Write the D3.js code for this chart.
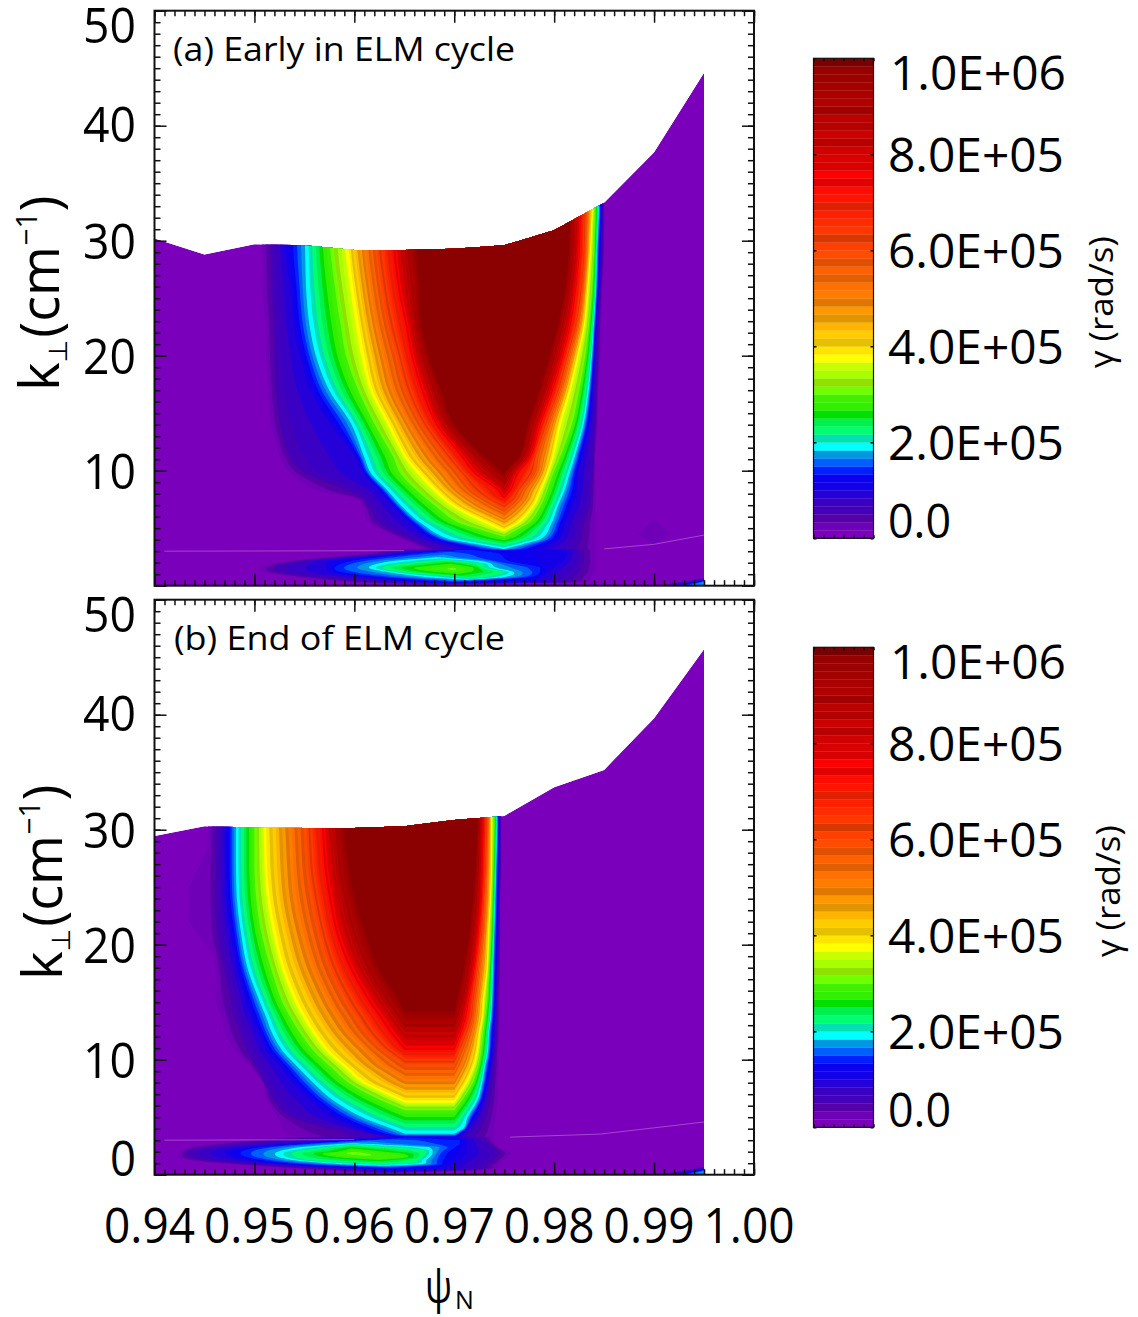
<!DOCTYPE html>
<html>
  <head>
    <meta http-equiv="Content-Type" content="text/html;charset=utf-8"/>
    <script src="https://d3js.org/d3.v7.min.js"></script>
    <style type="text/css">
      html, body { margin: 0; padding: 0; background: #fff; }
      svg { display: block; }
      text { font-family: "Open Sans", "Noto Sans", sans-serif; fill: #000; }
    </style>
  </head>
  <body>
    <div id="chart"></div>
    <script type="text/javascript">
    // psi is kept in thousandths (950 = 0.950), gamma in units of 1e6 rad/s
    // each lobe is a list of contour levels: [gamma, [[k, psiLeft, psiRight], ...]]
    var xMajor = [940, 950, 960, 970, 980, 990, 1000];
    var yMajor = [0, 10, 20, 30, 40, 50];
    var barLabels = ["0.0", "2.0E+05", "4.0E+05", "6.0E+05", "8.0E+05", "1.0E+06"];
    var barValues = [0, 0.2, 0.4, 0.6, 0.8, 1];

    var bandColors = [
      "#7a00bc", "#7000b8", "#5500a8", "#4400b8", "#3a00c4", "#2600d8", "#1400e8", "#0c00f0",
      "#0020ff", "#0060ff", "#0098e0", "#00ffff", "#00e0b0", "#00ff70", "#00f050", "#00e000",
      "#30f000", "#40f000", "#70ff00", "#90e000", "#a8ff00", "#c8ff00", "#ffff00", "#ffe400",
      "#e4c000", "#ffcc00", "#ffb400", "#e09400", "#ff9800", "#e07800", "#ff7c00", "#ff7000",
      "#e06000", "#ff6000", "#e05000", "#ff4c00", "#ff4000", "#d83800", "#ff3800", "#ff2c00",
      "#ff2000", "#e02000", "#ff1400", "#ff0c00", "#e00000", "#ff0000", "#d80000", "#d80000",
      "#d00000", "#b80000", "#cc0000", "#b40000", "#bc0000", "#a00000", "#b00000", "#aa0000",
      "#a40000", "#9c0000", "#980000", "#780000"
    ];
    var plateauColor = "#8b0000";

    var topEdgePsi = [940, 945, 950, 955, 960, 965, 970, 975, 980, 985, 990, 995];
    var topEdgeA = [30.2, 28.8, 29.7, 29.6, 29.2, 29.2, 29.3, 29.6, 30.9, 33.3, 37.7, 44.6];
    var topEdgeB = [29.45, 30.3, 30.2, 30.15, 30.15, 30.3, 30.85, 31.2, 33.7, 35.2, 39.7, 45.7];

    var seamA = [[[941, 3.0], [965, 3.05]], [[985, 3.2], [990, 3.6], [995, 4.4]]];
    var seamB = [[[941, 3.0], [960, 3.05]], [[975.6, 3.27], [984.6, 3.53], [995, 4.58]]];

    var upperA = [
      [0.02, [[3.1,967.3,984.1],[4,964.9,984.1],[5.4,961.6,984.1],[6.9,960.9,984.1],[7.6,960.1,984.1],[8.3,956.2,984.1],[9.8,953.6,984.1],[11.2,952.6,984.1],[14.1,951.7,984.3],[17,951.4,984.4],[19.9,951.2,984.6],[22.8,951.1,984.7],[25.7,950.9,984.8],[29.2,950.8,985],[32.7,950.7,985]]],
      [0.06, [[3.1,968.5,981.6],[4,965.9,982.2],[5.4,962.9,982.6],[6.9,961.6,983.4],[8.3,960.1,983.6],[9.8,955.6,983.8],[11.2,953.9,983.9],[14.1,952.9,984.1],[17,952.4,984.2],[19.9,952.3,984.3],[22.8,952.2,984.4],[25.7,952,984.6],[29.2,951.9,984.8],[32.7,951.9,984.9]]],
      [0.1, [[3.1,971.6,978.6],[3.97,967.9,980.4],[5.42,965.6,981.1],[6.87,963.9,981.8],[8.32,962.4,982.3],[9.77,960.9,982.4],[11.2,960.1,982.8],[14.1,957.6,983.5],[17,955.6,983.8],[19.9,954.6,984],[22.8,953.9,984.2],[25.7,953.6,984.4],[29.2,953.1,984.6],[32.7,953,984.7]]],
      [0.18, [[3.15,975,975],[3.97,969.6,978.6],[5.42,966.6,979.8],[6.87,964.7,980.4],[8.32,963.2,981.1],[9.77,961.6,981.6],[11.2,960.9,982.1],[14.1,959.6,983],[17,957.4,983.5],[19.9,956.1,983.8],[22.8,955.4,984],[25.7,955.1,984.2],[29.2,955,984.3],[32.7,954.9,984.5]]],
      [0.3, [[4.26,975,975],[5.42,970.6,977.4],[6.87,968.2,978.6],[8.32,966.2,979.3],[9.77,964.6,979.9],[11.2,963.9,980.6],[14.1,962,981.8],[17,960.4,982.5],[19.9,959.2,983.1],[22.8,958.6,983.5],[25.7,958.1,983.8],[29.2,957.6,984],[32.7,957.5,984.1]]],
      [0.38, [[4.84,975,975],[5.42,973.6,976.25],[6.87,970.2,977.8],[8.32,968.2,978.6],[9.77,966.6,979.3],[11.2,965.2,979.8],[14.1,963.5,980.5],[17,961.8,981.5],[19.9,961,982.3],[22.8,960.4,983],[25.7,959.9,983.3],[29.2,959.4,983.6],[32.7,959.3,983.8]]],
      [0.6, [[6.7,975,975],[7.4,973.5,976],[8.32,971.9,976.6],[9.77,970.6,977.9],[11.2,969.2,978.2],[14.1,966.8,979.3],[17,965.2,980.5],[19.9,964.3,981.4],[22.8,963.4,982.3],[25.7,962.8,982.8],[29.2,962.3,983.1],[32.7,962.2,983.2]]],
      [0.75, [[7.75,975,975],[8.32,974.6,975.6],[9.77,972.2,976.25],[11.2,970.9,977.6],[14.1,968.3,978.6],[17,966.9,979.8],[19.9,965.9,980.8],[22.8,965.3,981.6],[25.7,964.6,982.1],[29.2,964.1,982.5],[32.7,964,982.6]]],
      [1, [[9.9,975,975],[11.2,973.2,976.4],[14.1,970.1,977.3],[17,968.8,978.4],[19.9,967.6,979.4],[22.8,966.8,980.3],[25.7,966.7,981],[29.2,966.4,981.4],[32.7,966.4,981.5]]]
    ];
    var lowerA = [
      [0.02, [[0.05,966.3,966.3],[0.3,959.6,982.6],[0.7,954.6,983.6],[1.14,951.2,984],[1.58,950.6,984.1],[2.17,953.6,984.1],[2.75,960.9,984.1],[3.2,965,984.1],[3.3,975,975]]],
      [0.06, [[0.15,969.6,969.6],[0.3,962.9,980.6],[0.7,957.2,981.3],[1.14,953.2,982],[1.58,952.4,982.3],[2.17,954.9,982.6],[2.75,962.6,982.6],[3.15,967,982.6],[3.2,975,975]]],
      [0.1, [[0.2,970,970],[0.3,966.3,977.3],[0.7,961.6,978.6],[1.14,957.6,979.3],[1.58,957.2,979.9],[2.17,957.2,981],[2.75,964.3,981.3],[3.1,970,981.3],[3.15,975,975]]],
      [0.14, [[0.35,969.6,969.6],[0.7,963.6,976.9],[1.14,959.2,978.4],[1.58,958.2,978.4],[2.17,960.3,974.3],[2.85,966.3,972.9],[3.1,970,970]]],
      [0.18, [[0.5,971.3,971.3],[0.7,967.3,974.9],[1.14,963.6,976.1],[1.58,961.3,974.3],[2.17,963.6,972.9],[2.5,968.3,968.3]]],
      [0.22, [[0.65,972.3,972.3],[0.75,971.3,972.9],[1.14,965.3,974.9],[1.58,962.9,972.9],[1.9,964.9,972.6],[2.25,968.9,968.9]]],
      [0.26, [[0.95,970.3,970.3],[1.2,967.3,972.3],[1.6,965.3,972.3],[2,969.6,969.6]]],
      [0.31, [[1.45,969.9,969.9]]]
    ];
    var upperB = [
      [0.02, [[3.1,955,973.8],[3.6,953.2,973.9],[5,952.4,974.1],[6.5,951.2,974.3],[7.9,950.9,974.3],[9.4,949.6,974.4],[10.8,948.1,974.4],[12.3,947.1,974.5],[13.7,946.7,974.5],[15.2,946.2,974.5],[18.1,946.1,974.6],[21,945.4,974.6],[23.9,945.2,974.6],[26.8,945.2,974.7],[30.3,945.4,974.7]]],
      [0.06, [[3.1,963,971],[3.6,960.9,971.9],[5,954.2,972.9],[6.5,952.2,973.4],[7.9,951.1,973.7],[9.4,950.4,973.9],[10.8,949.6,974.1],[12.3,949.1,974.2],[13.7,948.4,974.3],[15.2,948.1,974.3],[18.1,947.2,974.4],[21,946.6,974.5],[23.9,946.4,974.5],[26.8,946.4,974.6],[30.3,946.4,974.6]]],
      [0.1, [[3.25,964.5,970.3],[3.6,961.6,970.8],[5,957.9,972.1],[6.5,955.6,972.9],[7.9,953.9,973.3],[9.4,952.6,973.6],[10.8,951.2,973.8],[12.3,950.4,973.9],[13.7,949.7,974],[15.2,949.1,974.1],[18.1,948.2,974.2],[21,947.6,974.3],[23.9,947.2,974.4],[26.8,947.1,974.4],[30.3,947.1,974.5]]],
      [0.18, [[3.5,965.1,970],[4,963.6,971],[5,960.6,971.4],[6.5,957.7,972.4],[7.9,955.9,972.8],[9.4,954.2,973.1],[10.8,952.7,973.4],[12.3,951.7,973.5],[13.7,951.1,973.7],[15.2,950.4,973.8],[18.1,949.2,973.9],[21,948.6,974],[23.9,948.2,974.1],[26.8,948.1,974.2],[30.3,948.1,974.3]]],
      [0.3, [[5.6,965.1,970],[6.5,962.6,970.8],[7.9,959.6,971.8],[9.4,957.6,972.4],[10.8,955.9,972.7],[12.3,954.6,972.9],[13.7,953.6,973.1],[15.2,952.7,973.3],[18.1,951.6,973.5],[21,950.7,973.7],[23.9,950.2,973.8],[26.8,950,973.9],[30.3,950,974]]],
      [0.38, [[6.4,965.1,970],[7.9,961.3,971.1],[9.4,959.2,971.9],[10.8,957.4,972.3],[12.3,956.1,972.5],[13.7,955.1,972.8],[15.2,954.2,972.9],[18.1,952.9,973.3],[21,952.1,973.4],[23.9,951.5,973.6],[26.8,951.2,973.7],[30.3,951.1,973.7]]],
      [0.5, [[8.1,965.1,970],[9.4,962.6,970.8],[10.8,960.9,971.4],[12.3,959.2,971.9],[13.7,958.1,972.2],[15.2,957.1,972.4],[18.1,955.6,972.8],[21,954.6,973.1],[23.9,953.9,973.3],[26.8,953.6,973.4],[30.3,953.4,973.5]]],
      [0.6, [[9.6,965.1,970],[10.8,963.1,970.6],[12.3,961.4,971.3],[13.7,960.3,971.8],[15.2,959.2,972],[18.1,957.6,972.4],[21,956.6,972.8],[23.9,955.9,973],[26.8,955.4,973.2],[30.3,955.2,973.3]]],
      [0.75, [[11,965.1,970],[12.3,963.9,970.6],[13.7,962.8,971.1],[15.2,961.6,971.4],[18.1,959.7,972],[21,958.4,972.4],[23.9,957.7,972.7],[26.8,957.2,972.8],[30.3,956.9,972.9]]],
      [0.9, [[13.1,965.1,970],[15.2,963.4,970.8],[18.1,961.4,971.4],[21,960.1,971.9],[23.9,959.2,972.2],[26.8,958.6,972.4],[30.3,958.2,972.5]]],
      [1, [[14.4,965.1,970],[15.2,964.6,970.1],[18.1,962.6,970.9],[21,961.3,971.4],[23.9,960.3,971.8],[26.8,959.6,972.1],[30.3,959.1,972.3]]]
    ];
    var lowerB = [
      [0.02, [[0.1,962.9,962.9],[0.41,956.2,972.9],[0.84,948.9,974.3],[1.28,943.2,974.9],[1.86,942.4,975.6],[2.43,943.9,974.4],[3,949.6,973.9],[3.3,955,973.9],[3.4,965,965]]],
      [0.06, [[0.2,962.9,962.9],[0.41,959.6,971.6],[0.84,951.2,972.9],[1.28,945.4,973.6],[1.86,943.6,974.1],[2.43,945.9,973.8],[3,953.6,972.9],[3.2,958,972.9],[3.3,965,965]]],
      [0.1, [[0.3,964,964],[0.41,962.9,968.3],[0.84,954.2,969.6],[1.28,949.2,970.4],[1.86,947.1,971.3],[2.43,949.6,971.3],[3.05,960.9,971.3],[3.2,962,971.3],[3.25,965,965]]],
      [0.14, [[0.6,963.6,963.6],[0.84,956.2,968.3],[1.28,950.9,968.6],[1.86,948.9,968.9],[2.43,951.2,969.9],[3,960.3,970.4],[3.2,965,965]]],
      [0.18, [[0.75,962.9,962.9],[0.84,959.6,966.6],[1.28,953.6,967.3],[1.86,951.9,967.9],[2.43,954.6,967.6],[2.75,959.6,959.6]]],
      [0.22, [[0.95,962.9,962.9],[1,960.9,965.6],[1.28,955.6,966.3],[1.86,953.9,967.1],[2.2,955.6,966.6],[2.6,959.9,959.9]]],
      [0.26, [[1.25,962.3,962.3],[1.45,958.6,965.6],[1.86,956.4,965.3],[2,958.2,963.6],[2.35,959.6,959.6]]],
      [0.29, [[1.4,962.9,962.9],[1.55,959.6,964.9],[1.86,957.7,962.6],[2.1,959.9,959.9]]],
      [0.31, [[1.86,960,960]]]
    ];
    var corner = [
      [0.04, [[0.02,990.5,996],[0.5,994,996],[0.7,995,995]]],
      [0.1, [[0.02,992,996],[0.4,994.5,996],[0.5,995,995]]],
      [0.18, [[0.05,993.5,996],[0.25,995,996],[0.33,995,995]]]
    ];
    var faintA = [[0.02, [[3.5,990,990],[4.5,988.5,991.5],[5.7,990,990]]]];
    var faintB = [[0.02, [[19.5,945.5,945.5],[22,943.5,946],[25,943.5,946],[28.5,945.5,945.5]]]];

    var W = 1138, H = 1317;
    var x = d3.scaleLinear().domain([940, 1000]).range([154.5, 754]);
    var xFmt = d3.format(".2f");
    var svg = d3.select("#chart").append("svg").attr("width", W).attr("height", H);

    // cubic between two readings, plain linear next to a level's tip
    function hermite(rows, i, col, k) {
      var a = rows[i - 1], b = rows[i], h = b[0] - a[0], t = (k - a[0]) / h;
      var linear = a[col] + t * (b[col] - a[col]);
      var p = rows[i - 2], q = rows[i + 1];
      if (!p || !q || a[1] == a[2] || b[1] == b[2]) return linear;
      var m0 = (b[col] - p[col]) / (b[0] - p[0]) * h;
      var m1 = (q[col] - a[col]) / (q[0] - a[0]) * h;
      var v = (2*t*t*t - 3*t*t + 1) * a[col] + (t*t*t - 2*t*t + t) * m0 + (-2*t*t*t + 3*t*t) * b[col] + (t*t*t - t*t) * m1;
      return Math.min(Math.max(v, Math.min(a[col], b[col])), Math.max(a[col], b[col]));
    }

    // psi limits of one level at a given k, null if the level is absent there
    function levelEdge(rows, k) {
      var n = rows.length, last = rows[n - 1];
      if (k < rows[0][0]) return null;
      if (k >= last[0]) return last[2] > last[1] ? [last[1], last[2]] : null;
      var i = d3.bisectRight(rows.map(function(r) { return r[0]; }), k);
      return [hermite(rows, i, 1, k), hermite(rows, i, 2, k)];
    }

    // tips of the nested levels, so the bands stay nested below a level's end
    function ridgeOf(lobe) {
      var tips = [];
      lobe.forEach(function(l) {
        var rows = l[1], first = rows[0], last = rows[rows.length - 1];
        tips.push([first[0], first[1], first[2], l[0]]);
        if (rows.length > 1 && last[1] == last[2]) tips.push([last[0], last[1], last[2], l[0]]);
      });
      return tips.sort(function(a, b) { return a[0] - b[0]; });
    }

    function ridgeAt(tips, k) {
      if (k < tips[0][0] || k > tips[tips.length - 1][0]) return null;
      var i = d3.bisectRight(tips.map(function(r) { return r[0]; }), k);
      if (i >= tips.length) return tips[tips.length - 1];
      var a = tips[i - 1], b = tips[i], t = (k - a[0]) / (b[0] - a[0]);
      return [k, a[1] + t * (b[1] - a[1]), a[2] + t * (b[2] - a[2]), a[3] + t * (b[3] - a[3])];
    }

    function knotsAt(lobe, tips, k) {
      var left = [], right = [], top = 0;
      lobe.forEach(function(l) {
        var e = levelEdge(l[1], k);
        if (!e) return;
        left.push([e[0], l[0]]);
        right.unshift([e[1], l[0]]);
        top = l[0];
      });
      var r = ridgeAt(tips, k);
      if (r && r[3] > top) {
        left.push([r[1], r[3]]);
        right.unshift([r[2], r[3]]);
      }
      if (!left.length) return null;
      var knots = [[left[0][0] - 0.25, 0]].concat(left, right, [[right[right.length - 1][0] + 0.25, 0]]);
      for (var i = 1; i < knots.length; i++) knots[i][0] = Math.max(knots[i][0], knots[i - 1][0]);
      return knots;
    }

    function buildField(lobes, nx, ny, psiStep, kStep) {
      var values = new Float64Array(nx * ny);
      var ridges = lobes.map(ridgeOf);
      for (var j = 0; j < ny; j++) {
        var k = j * kStep;
        lobes.forEach(function(lobe, li) {
          var knots = knotsAt(lobe, ridges[li], k);
          if (!knots) return;
          var p = 0;
          for (var i = 0; i < nx; i++) {
            var psi = 940 + i * psiStep;
            if (psi < knots[0][0]) continue;
            while (p < knots.length - 2 && knots[p + 1][0] < psi) p++;
            if (psi > knots[knots.length - 1][0]) break;
            var a = knots[p], b = knots[p + 1];
            var g = b[0] > a[0] ? a[1] + (psi - a[0]) / (b[0] - a[0]) * (b[1] - a[1]) : Math.max(a[1], b[1]);
            if (g > values[j * nx + i]) values[j * nx + i] = g;
          }
        });
      }
      return values;
    }

    function drawPanel(p) {
      var y = d3.scaleLinear().domain([0, 50]).range([p.bottom, p.bottom - 575]);
      var g = svg.append("g");
      var clipId = "clip" + p.name;

      var area = d3.area()
        .x(function(d, i) { return x(topEdgePsi[i]); })
        .y0(y(0))
        .y1(function(d) { return y(d); });
      g.append("clipPath").attr("id", clipId).append("path").attr("d", area(p.topEdge));

      var plot = g.append("g").attr("clip-path", "url(#" + clipId + ")");
      plot.append("path").attr("d", area(p.topEdge)).attr("fill", bandColors[0]);

      var nx = 561, ny = 511, psiStep = 0.1, kStep = 0.1;
      var values = buildField(p.lobes, nx, ny, psiStep, kStep);
      var thresholds = bandColors.map(function(c, i) { return i / bandColors.length; }).slice(1);
      var contours = d3.contours().size([nx, ny]).thresholds(thresholds)(values);
      var path = d3.geoPath(d3.geoTransform({
        point: function(px, py) {
          this.stream.point(x(940 + (px - 0.5) * psiStep), y((py - 0.5) * kStep));
        }
      }));
      plot.selectAll("path.band").data(contours).enter().append("path")
        .attr("class", "band")
        .attr("d", path)
        .attr("fill", function(d, i) { return i == contours.length - 1 ? plateauColor : bandColors[i + 1]; });

      var seamLine = d3.line().x(function(d) { return x(d[0]); }).y(function(d) { return y(d[1]); });
      plot.selectAll("path.seam").data(p.seam).enter().append("path")
        .attr("class", "seam")
        .attr("d", seamLine)
        .attr("fill", "none")
        .attr("stroke", "#e0b0f0")
        .attr("stroke-opacity", 0.4)
        .attr("stroke-width", 1);

      var yTop = y(50), yBot = y(0), xLeft = x(940), xRight = x(1000);
      var minorX = d3.range(940, 1001), minorY = d3.range(0, 51);
      function ticks(axisFn, scale, values, size, tx) {
        var ax = g.append("g")
          .attr("transform", tx)
          .call(axisFn(scale).tickValues(values).tickSizeInner(size).tickSizeOuter(0).tickFormat(""));
        ax.select(".domain").remove();
        ax.selectAll("line").attr("stroke", "#111").attr("stroke-width", 1.5);
      }
      ticks(d3.axisBottom, x, minorX, -5.5, "translate(0," + yBot + ")");
      ticks(d3.axisBottom, x, xMajor, -12, "translate(0," + yBot + ")");
      ticks(d3.axisTop, x, minorX, -5.5, "translate(0," + yTop + ")");
      ticks(d3.axisTop, x, xMajor, -12, "translate(0," + yTop + ")");
      ticks(d3.axisLeft, y, minorY, -6, "translate(" + xLeft + ",0)");
      ticks(d3.axisLeft, y, yMajor, -12, "translate(" + xLeft + ",0)");
      ticks(d3.axisRight, y, minorY, -6, "translate(" + xRight + ",0)");
      ticks(d3.axisRight, y, yMajor, -12, "translate(" + xRight + ",0)");
      g.append("rect")
        .attr("x", xLeft).attr("y", yTop)
        .attr("width", xRight - xLeft).attr("height", yBot - yTop)
        .attr("fill", "none").attr("stroke", "#111").attr("stroke-width", 2);

      // y tick labels, the end ones are pulled inside the frame
      yMajor.forEach(function(v) {
        if (v == 0 && !p.showZero) return;
        var off = v == 50 ? 14 : v == 0 ? -17 : v == 40 ? -2 : 0.5;
        g.append("text")
          .attr("x", 136).attr("y", y(v) + off + 18)
          .attr("text-anchor", "end")
          .attr("font-size", 50)
          .attr("textLength", v == 0 ? 26 : 53)
          .attr("lengthAdjust", "spacingAndGlyphs")
          .text(v);
      });

      g.append("text")
        .attr("x", p.titleX).attr("y", yTop + 50)
        .attr("font-size", 33)
        .attr("textLength", p.titleW)
        .attr("lengthAdjust", "spacingAndGlyphs")
        .text(p.title);

      var kLabel = g.append("text")
        .attr("transform", "translate(" + p.kX + "," + (yBot - 195) + ") rotate(-90)")
        .attr("font-size", 54);
      kLabel.append("tspan").text("k");
      kLabel.append("tspan").attr("font-size", 26).attr("dy", 8).attr("font-family", "DejaVu Sans").text("\u22a5");
      kLabel.append("tspan").attr("dy", -8).attr("dx", 2).text("(cm");
      kLabel.append("tspan").attr("font-size", 30).attr("dy", -22).text("\u22121");
      kLabel.append("tspan").attr("dy", 22).text(")");

      // colour bar
      var barTop = yTop + 47.6;
      var barY = d3.scaleLinear().domain([0, 1]).range([barTop + 480, barTop]);
      var barX0 = 813.5, barX1 = 873.5, n = bandColors.length;
      g.selectAll("rect.band").data(bandColors).enter().append("rect")
        .attr("class", "band")
        .attr("x", barX0)
        .attr("y", function(d, i) { return barY((i + 1) / n); })
        .attr("width", barX1 - barX0)
        .attr("height", 480 / n + 0.3)
        .attr("fill", function(d) { return d; });
      var barScale = d3.scaleLinear().domain([0, 60]).range([barX0, barX1]);
      var smallTicks = d3.range(0, 61, 10);
      ticks(d3.axisBottom, barScale, smallTicks, -3, "translate(0," + barY(0) + ")");
      ticks(d3.axisTop, barScale, smallTicks, -3, "translate(0," + barY(1) + ")");
      ticks(d3.axisLeft, barY, barValues, -3, "translate(" + barX0 + ",0)");
      ticks(d3.axisRight, barY, barValues, -3, "translate(" + barX1 + ",0)");
      g.append("rect")
        .attr("x", barX0).attr("y", barTop)
        .attr("width", barX1 - barX0).attr("height", 480)
        .attr("fill", "none").attr("stroke", "#111").attr("stroke-width", 1.2);
      barValues.forEach(function(v, i) {
        var off = v == 1 ? 15 : v == 0 ? -17 : 1;
        g.append("text")
          .attr("x", v == 1 ? 890 : 888).attr("y", barY(v) + off + 17)
          .attr("font-size", 47)
          .attr("textLength", v == 0 ? 63 : 176)
          .attr("lengthAdjust", "spacingAndGlyphs")
          .text(barLabels[i]);
      });
      g.append("text")
        .attr("transform", "translate(" + p.gammaX + "," + (barY(0.5) + 70) + ") rotate(-90)")
        .attr("font-size", 33)
        .attr("textLength", 132)
        .attr("lengthAdjust", "spacingAndGlyphs")
        .text("\u03b3 (rad/s)");
    }

    drawPanel({
      name: "A", bottom: 585.7, topEdge: topEdgeA, seam: seamA,
      lobes: [upperA, lowerA, corner, faintA],
      title: "(a) Early in ELM cycle", titleX: 173, titleW: 342,
      kX: 59, gammaX: 1113, showZero: false
    });
    drawPanel({
      name: "B", bottom: 1174.7, topEdge: topEdgeB, seam: seamB,
      lobes: [upperB, lowerB, corner, faintB],
      title: "(b) End of ELM cycle", titleX: 174, titleW: 331,
      kX: 62, gammaX: 1120, showZero: true
    });

    // shared x labels
    xMajor.forEach(function(v) {
      svg.append("text")
        .attr("x", x(v) - 5).attr("y", 1243)
        .attr("text-anchor", "middle")
        .attr("font-size", 50)
        .attr("textLength", 91)
        .attr("lengthAdjust", "spacingAndGlyphs")
        .text(xFmt(v / 1000));
    });
    svg.append("text")
      .attr("x", 425).attr("y", 1303)
      .attr("font-size", 46)
      .attr("textLength", 27)
      .attr("lengthAdjust", "spacingAndGlyphs")
      .text("\u03c8");
    svg.append("text").attr("x", 455).attr("y", 1309).attr("font-size", 25).text("N");
    </script>
  </body>
</html>
